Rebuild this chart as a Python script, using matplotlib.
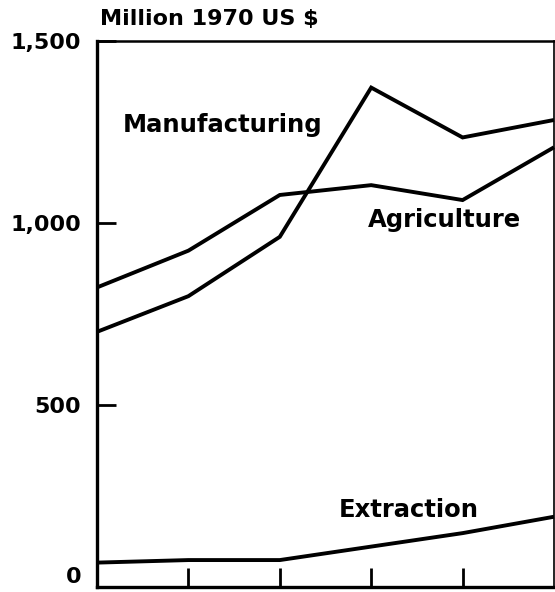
import matplotlib
matplotlib.use("Agg")
import matplotlib.pyplot as plt

# Data
periods = [0, 1, 2, 3, 4, 5]
manufacturing = [701, 799, 962, 1372, 1235, 1283]
agriculture = [823, 924, 1077, 1104, 1063, 1208]
extraction = [67, 74, 74, 111, 148, 193]

ytick_values = [0, 500, 1000, 1500]
ytick_labels = ["0", "500", "1,000", "1,500"]
xtick_values = [1, 2, 3, 4]

title = "Million 1970 US $"

plt.rcParams['font.family'] = ['DejaVu Sans']
plt.rcParams['font.weight'] = 'bold'

fig = plt.figure(figsize=(5.55, 5.92), dpi=100)
ax = fig.add_axes([97/555, 5/592, (554-97)/555, (587-41)/592])

lw = 2.8
for series in (manufacturing, agriculture, extraction):
    ax.plot(periods, series, color='black', lw=lw, solid_joinstyle='miter',
            solid_capstyle='butt', clip_on=False)

ax.set_xlim(0, 5)
ax.set_ylim(0, 1500)

ax.set_yticks(ytick_values)
ax.set_yticklabels(ytick_labels, fontsize=16, fontweight='bold')
ax.set_xticks(xtick_values)
ax.set_xticklabels([])
ax.tick_params(axis='y', direction='in', length=14, width=2, pad=11.5)
ax.tick_params(axis='x', direction='in', length=14, width=2)
ax.get_yticklabels()[0].set_va('bottom')

for side in ('left', 'bottom'):
    ax.spines[side].set_linewidth(2.4)
ax.spines['top'].set_linewidth(1.8)
ax.spines['right'].set_linewidth(1.2)

# Series labels
lab = dict(fontsize=17.5, fontweight='bold', ha='center', va='baseline')
ax.text(1.376, 1250, "Manufacturing", **lab)
ax.text(3.80, 989, "Agriculture", **lab)
ax.text(3.41, 193, "Extraction", **lab)

fig.text(100/555, (592-25)/592, title, fontsize=16, fontweight='bold',
         ha='left', va='baseline')

fig.savefig("out.png", dpi=100, facecolor='white')
